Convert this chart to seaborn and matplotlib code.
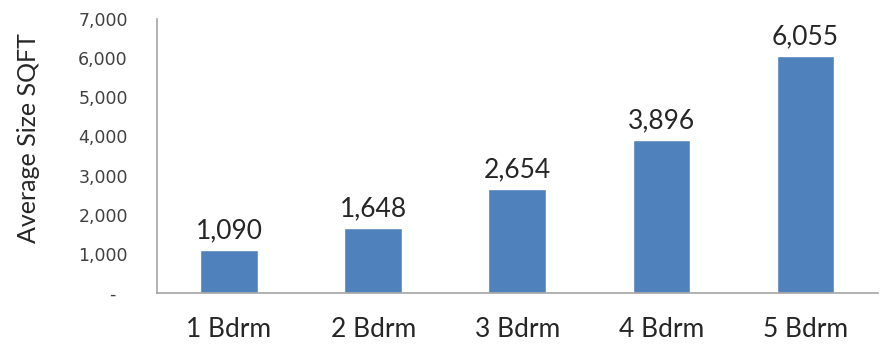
import matplotlib
matplotlib.use("Agg")
import matplotlib.pyplot as plt
import seaborn as sns
import pandas as pd

categories = ["1 Bdrm", "2 Bdrm", "3 Bdrm", "4 Bdrm", "5 Bdrm"]
avg_size = [1090, 1648, 2654, 3896, 6055]
y_ticks = [0, 1000, 2000, 3000, 4000, 5000, 6000, 7000]
y_tick_labels = ["-  ", "1,000", "2,000", "3,000", "4,000", "5,000", "6,000", "7,000"]
y_label = "Average Size SQFT"

sns.set_style("white")
plt.rcParams["font.family"] = ["Lato", "DejaVu Sans"]

df = pd.DataFrame({"cat": categories, "val": avg_size})

fig = plt.figure(figsize=(8.82, 3.45), dpi=100)
ax = fig.add_axes([0.178, 0.151, 0.817, 0.794])
sns.barplot(data=df, x="cat", y="val", color="#4F81BD", width=0.4,
            saturation=1, ax=ax)

for p, v in zip(ax.patches, avg_size):
    ax.annotate(f"{v:,}", (p.get_x() + p.get_width() / 2, v),
                xytext=(0, 5), textcoords="offset points",
                ha="center", va="bottom", fontsize=19, color="#262626")

ax.set_ylim(0, 7000)
ax.set_xlim(-0.5, 4.5)
ax.set_yticks(y_ticks)
ax.set_yticklabels(y_tick_labels, fontsize=12.5, color="#404040",
                   family=["DejaVu Sans"])
ax.tick_params(axis="x", labelsize=19, colors="#262626", length=0, pad=17)
ax.tick_params(axis="y", length=0, pad=21)
ax.set_xlabel("")
ax.set_ylabel(y_label, fontsize=18, color="#262626")
ax.yaxis.set_label_coords(-0.162, 0.564)

for s in ["top", "right"]:
    ax.spines[s].set_visible(False)
for s in ["left", "bottom"]:
    ax.spines[s].set_color("#A6A6A6")
    ax.spines[s].set_linewidth(1.2)

fig.savefig("out.png", dpi=100)
